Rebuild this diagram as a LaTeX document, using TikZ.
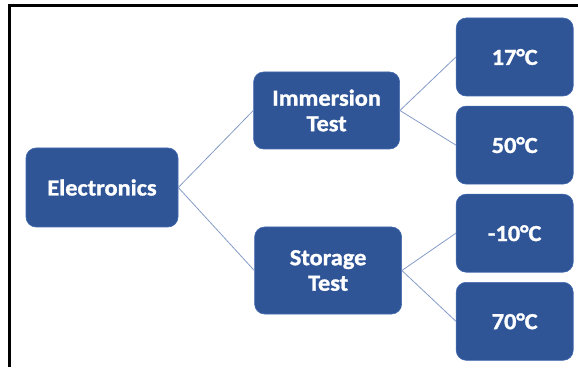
\documentclass[tikz,border=0pt]{standalone}
\usepackage{fontspec}
\setmainfont{Carlito}[FakeStretch=1.06, BoldFeatures={FakeBold=1.2}]
\usepackage{xcolor}
\usepackage{tikz}
\usetikzlibrary{positioning}
\definecolor{boxblue}{RGB}{47,85,151}
\definecolor{boxedge}{RGB}{65,105,175}
\definecolor{linkblue}{RGB}{132,155,200}

\begin{document}
\begin{tikzpicture}[
    x=1pt, y=1pt,
    node distance=9.5pt,
    box/.style={draw=boxedge, line width=0.6pt, fill=boxblue, rounded corners=10pt, align=center,
      text=white, font=\fontsize{23}{25.5}\selectfont\bfseries},
    rootbox/.style={box, minimum width=152pt, minimum height=79pt},
    testbox/.style={box, minimum width=146pt, minimum height=77pt},
    tempbox/.style={box, minimum width=117pt, minimum height=78pt},
    link/.style={draw=linkblue, line width=0.8pt}
]
\useasboundingbox (0,0) rectangle (578,367);
\draw[line width=2.5pt] (9.5,0) -- (9.5,361.7) -- (578,361.7);
\node[rootbox] (elec) at (102,179.5) {Electronics};
\node[testbox, right=75pt of elec, yshift=77pt] (imm) {Immersion\\Test};
\node[testbox, minimum width=147pt, minimum height=87pt, right=76pt of elec, yshift=-83pt] (stor) {Storage\\Test};
\node[tempbox, right=56pt of imm, yshift=53.5pt] (t17) {17°C};
\node[tempbox, below=of t17] (t50) {50°C};
\node[tempbox, below=of t50] (tm10) {-10°C};
\node[tempbox, below=of tm10] (t70) {70°C};
\draw[link] (elec.east) -- (imm.west);
\draw[link] (elec.east) -- (stor.west);
\draw[link] (imm.east) -- (t17.west);
\draw[link] (imm.east) -- (t50.west);
\draw[link] (stor.east) -- (tm10.west);
\draw[link] (stor.east) -- (t70.west);
\end{tikzpicture}
\end{document}
